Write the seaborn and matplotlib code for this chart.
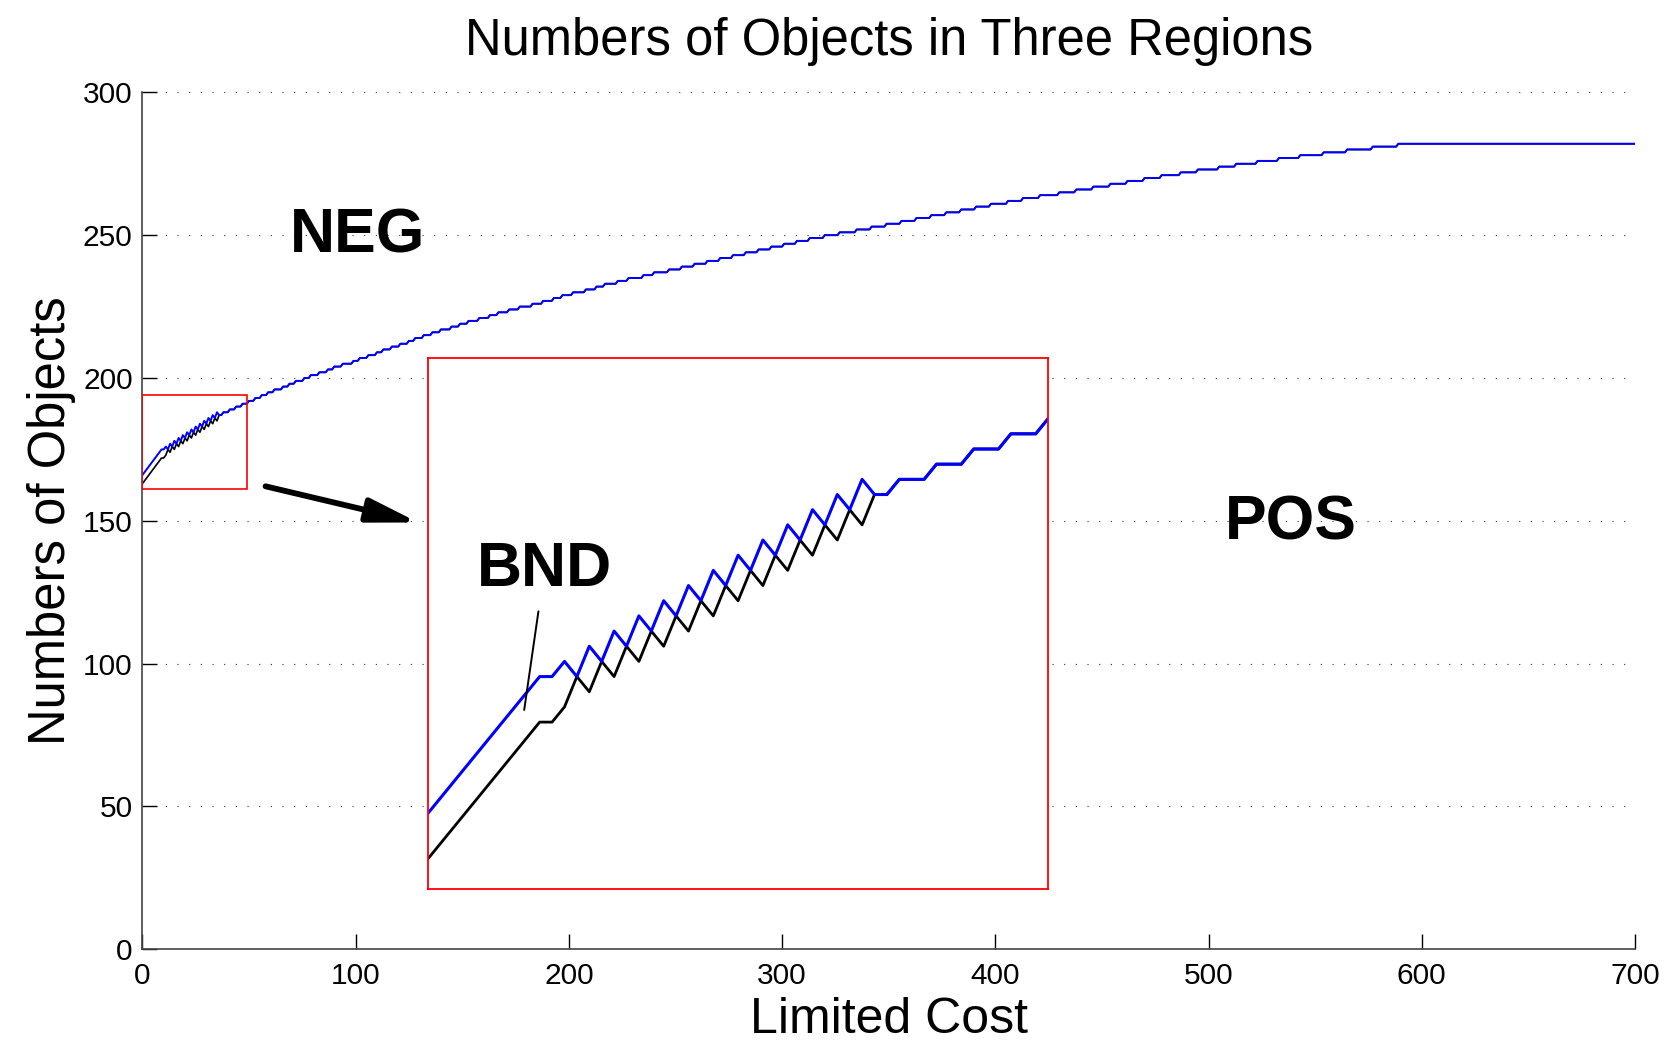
import matplotlib
matplotlib.use("Agg")
import matplotlib.pyplot as plt
import seaborn as sns
import pandas as pd
from matplotlib.patches import Rectangle, FancyArrowPatch

# ---- data -------------------------------------------------------------
# Limited cost sampled at every unit for the early (oscillating) part
cost_dense = [0, 1, 2, 3, 4, 5, 6, 7, 8, 9,
              10, 11, 12, 13, 14, 15, 16, 17, 18, 19,
              20, 21, 22, 23, 24, 25, 26, 27, 28, 29,
              30, 31, 32, 33, 34, 35, 36, 37, 38, 39,
              40, 41, 42, 43, 44, 45, 46, 47, 48, 49, 50]
# upper boundary (NEG / BND)
neg_dense = [166, 167, 168, 169, 170, 171, 172, 173, 174, 175,
             175, 176, 175, 177, 176, 178, 177, 179, 178, 180,
             179, 181, 180, 182, 181, 183, 182, 184, 183, 185,
             184, 186, 185, 187, 186, 188, 187, 187, 188, 188,
             188, 189, 189, 189, 190, 190, 190, 191, 191, 191, 192]
# lower boundary (BND / POS) until it joins the upper one
pos_dense = [163, 164, 165, 166, 167, 168, 169, 170, 171, 172,
             172, 173, 175, 174, 176, 175, 177, 176, 178, 177,
             179, 178, 180, 179, 181, 180, 182, 181, 183, 182,
             184, 183, 185, 184, 186, 185, 187]

# beyond cost 50 the count rises one object at a time
step_cost = [53, 56, 59, 62, 66, 69, 72, 76, 79, 83,
             87, 90, 94, 99, 102, 106, 110, 113, 117, 121,
             125, 128, 132, 136, 140, 145, 149, 153, 158, 163,
             167, 172, 177, 183, 188, 193, 197, 202, 208, 213,
             217, 223, 228, 235, 240, 247, 253, 259, 265, 271,
             277, 283, 289, 295, 301, 307, 313, 320, 327, 335,
             342, 349, 356, 363, 370, 377, 384, 391, 398, 406,
             413, 421, 430, 438, 446, 454, 462, 470, 478, 487,
             495, 505, 513, 523, 533, 543, 554, 565, 577, 589]
step_level = [193, 194, 195, 196, 197, 198, 199, 200, 201, 202,
              203, 204, 205, 206, 207, 208, 209, 210, 211, 212,
              213, 214, 215, 216, 217, 218, 219, 220, 221, 222,
              223, 224, 225, 226, 227, 228, 229, 230, 231, 232,
              233, 234, 235, 236, 237, 238, 239, 240, 241, 242,
              243, 244, 245, 246, 247, 248, 249, 250, 251, 252,
              253, 254, 255, 256, 257, 258, 259, 260, 261, 262,
              263, 264, 265, 266, 267, 268, 269, 270, 271, 272,
              273, 274, 275, 276, 277, 278, 279, 280, 281, 282]
max_cost = 700

x_ticks = [0, 100, 200, 300, 400, 500, 600, 700]
y_ticks = [0, 50, 100, 150, 200, 250, 300]


def staircase(xs, ys, costs, levels, end_cost):
    px, py = list(xs), list(ys)
    for c, v in zip(costs, levels):
        px += [c - 1, c]
        py += [py[-1], v]
    px.append(end_cost)
    py.append(py[-1])
    return pd.DataFrame({"cost": px, "count": py})


neg_df = staircase(cost_dense, neg_dense, step_cost, step_level, max_cost)
# the lower boundary follows the upper one once they meet
pos_df = staircase(cost_dense, pos_dense + neg_dense[len(pos_dense):],
                   step_cost, step_level, max_cost)

# ---- style ------------------------------------------------------------
sns.set_style("white")
plt.rcParams["font.family"] = ["Liberation Sans", "DejaVu Sans"]
plt.rcParams["text.color"] = "black"
plt.rcParams["axes.labelcolor"] = "black"

fig = plt.figure(figsize=(16.65, 10.40), dpi=100)
ax = fig.add_axes([0.0855, 0.0872, 0.8965, 0.8240])

ax.yaxis.grid(True, linestyle=(0, (1, 9.5)), color="#333333", lw=0.8)
ax.xaxis.grid(False)
ax.set_axisbelow(True)

sns.lineplot(data=pos_df, x="cost", y="count", sort=False, estimator=None,
             color="black", lw=1.2, ax=ax)
sns.lineplot(data=neg_df, x="cost", y="count", sort=False, estimator=None,
             color="#0000ff", lw=1.4, ax=ax)

ax.add_patch(Rectangle((0, 161), 49, 33, fill=False, edgecolor="red", lw=1.2,
                       zorder=3))

ax.set_xlim(0, 700)
ax.set_ylim(0, 300)
ax.set_xticks(x_ticks)
ax.set_yticks(y_ticks)
ax.tick_params(bottom=True, left=True, direction="in", length=10.5,
               width=1.0, labelsize=21.5, colors="black")
ax.tick_params(axis="x", pad=9)
ax.tick_params(axis="y", pad=7)
for side in ("top", "right"):
    ax.spines[side].set_visible(False)
for side in ("left", "bottom"):
    ax.spines[side].set_color("#444444")
    ax.spines[side].set_linewidth(1.2)

ax.set_title("Numbers of Objects in Three Regions", fontsize=36.5, pad=27)
ax.set_xlabel("Limited Cost", fontsize=36, labelpad=5)
ax.set_ylabel("Numbers of Objects", fontsize=36.5, labelpad=5)

ax.text(100.7, 244.1, "NEG", fontsize=45, fontweight="bold",
        ha="center", va="baseline")
ax.text(538.5, 143.4, "POS", fontsize=45, fontweight="bold",
        ha="center", va="baseline")

# ---- magnified view -----------------------------------------------------
axin = fig.add_axes([0.2571, 0.1452, 0.3724, 0.5106])
axin.set_facecolor("white")
sns.lineplot(data=pos_df, x="cost", y="count", sort=False, estimator=None,
             color="black", lw=2.0, ax=axin)
sns.lineplot(data=neg_df, x="cost", y="count", sort=False, estimator=None,
             color="#0000ff", lw=2.2, ax=axin)
axin.set_xlim(0, 50)
axin.set_ylim(161, 196)
axin.set_xticks([])
axin.set_yticks([])
axin.set_xlabel("")
axin.set_ylabel("")
axin.grid(False)
for s in axin.spines.values():
    s.set_visible(True)
    s.set_edgecolor("red")
    s.set_linewidth(1.3)

axin.text(9.4, 181.0, "BND", fontsize=45, fontweight="bold",
          ha="center", va="baseline")
axin.plot([8.9, 7.75], [179.3, 172.8], color="black", lw=1.4)

fig.patches.append(FancyArrowPatch(
    (0.1595, 0.5324), (0.2512, 0.4976), transform=fig.transFigure,
    arrowstyle="-|>,head_length=1.0,head_width=0.24", mutation_scale=30,
    shrinkA=0, shrinkB=0, lw=4.2, color="black"))

fig.savefig("out.png", dpi=100, facecolor="white")
